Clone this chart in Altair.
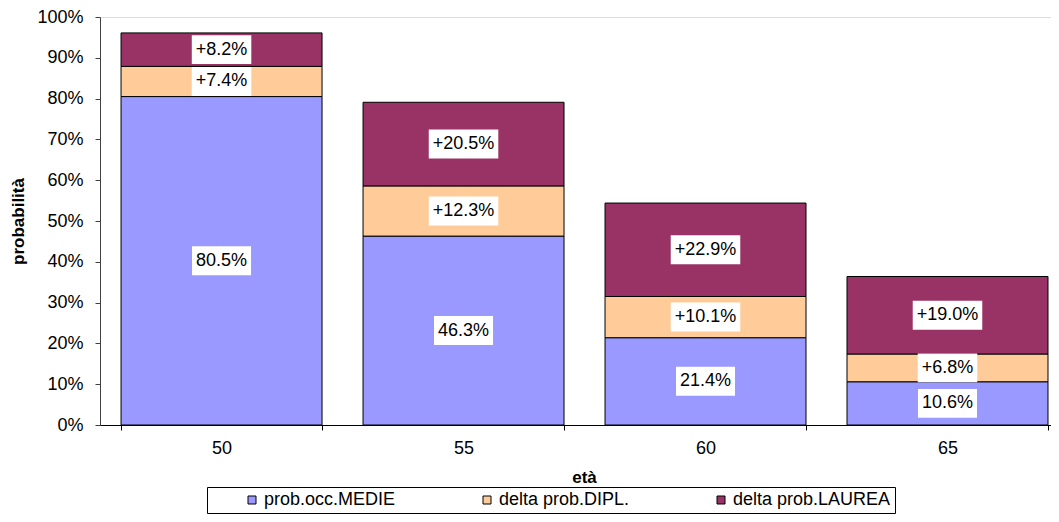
import altair as alt
import pandas as pd

ages = ["50", "55", "60", "65"]
medie = [0.805, 0.463, 0.214, 0.106]
dipl = [0.074, 0.123, 0.101, 0.068]
laurea = [0.082, 0.205, 0.229, 0.190]
series = ["prob.occ.MEDIE", "delta prob.DIPL.", "delta prob.LAUREA"]
prefixes = ["", "+", "+"]
colors = ["#9999FF", "#FFCC99", "#993366"]

FONT = "Liberation Sans"
# Arial advance widths (per 1000 em) to size the white label boxes
ADV = {str(d): 556 for d in range(10)}
ADV.update({".": 278, "%": 889, "+": 584})


def text_width(s, size=18):
    return sum(ADV.get(c, 556) for c in s) * size / 1000.0


rows = []
for i, a in enumerate(ages):
    base = 0.0
    for k, (s, vals) in enumerate(zip(series, [medie, dipl, laurea])):
        v = vals[i]
        lab = f"{prefixes[k]}{v * 100:.1f}%"
        mid = base + v / 2
        rows.append(dict(eta=a, serie=s, y0=base, y1=base + v, mid=mid,
                         b0=mid - 0.0355, b1=mid + 0.0355,
                         label=lab, bw=text_width(lab) + 8))
        base += v
df = pd.DataFrame(rows)

xscale = alt.Scale(paddingInner=0.1694, paddingOuter=0.0497, align=0.875)
xaxis = alt.Axis(labelAngle=0, tickBand="extent", tickSize=5, labelPadding=9,
                 labelFontSize=18, labelFont=FONT, labelColor="black",
                 titleFontSize=17, titleFont=FONT, titleFontWeight="bold",
                 titleColor="black", titlePadding=12, titleX=484,
                 titleAnchor="start", titleAlign="center",
                 domainColor="black", tickColor="black")
yscale = alt.Scale(domain=[0, 1], nice=False)
yaxis = alt.Axis(format=".0%", values=[i / 10 for i in range(11)], tickSize=5,
                 labelPadding=12, labelFontSize=18, labelFont=FONT,
                 labelColor="black", titleFontSize=17, titleFont=FONT,
                 titleFontWeight="bold", titleColor="black", titlePadding=9,
                 domainColor="#404040", tickColor="#404040", grid=False)

X = alt.X("eta:N", sort=ages, title="età", scale=xscale, axis=xaxis)

bars = alt.Chart(df).mark_bar(stroke="black", strokeWidth=1).encode(
    x=X,
    y=alt.Y("y0:Q", scale=yscale, axis=yaxis, title="probabilità"),
    y2="y1:Q",
    color=alt.Color("serie:N", scale=alt.Scale(domain=series, range=colors),
                    legend=alt.Legend(
                        title=None, orient="none", direction="horizontal",
                        columns=3, legendX=107, legendY=470,
                        strokeColor="black", fillColor="white", padding=4,
                        symbolType="square", symbolSize=64,
                        symbolStrokeColor="black", symbolStrokeWidth=1,
                        symbolOffset=32, columnPadding=50,
                        labelFontSize=18, labelFont=FONT, labelColor="black",
                        labelOffset=3, labelLimit=300)),
)

boxes = alt.Chart(df).mark_bar(color="white", stroke=None).encode(
    x=X,
    y=alt.Y("b0:Q", scale=yscale, axis=yaxis, title="probabilità"),
    y2="b1:Q",
    size=alt.Size("bw:Q", scale=None, legend=None),
)

texts = alt.Chart(df).mark_text(fontSize=18, font=FONT, color="black",
                                baseline="middle", align="center").encode(
    x=X,
    y=alt.Y("mid:Q", scale=yscale, axis=yaxis, title="probabilità"),
    text="label:N",
)

chart = alt.layer(bars, boxes, texts).properties(
    width=951, height=408,
    autosize=alt.AutoSizeParams(type="none"),
    padding={"left": 92, "top": 9, "right": 0, "bottom": 89},
).configure_view(stroke=None).configure(background="white")

chart.save("out.html", embed_options={"renderer": "svg", "actions": False})
